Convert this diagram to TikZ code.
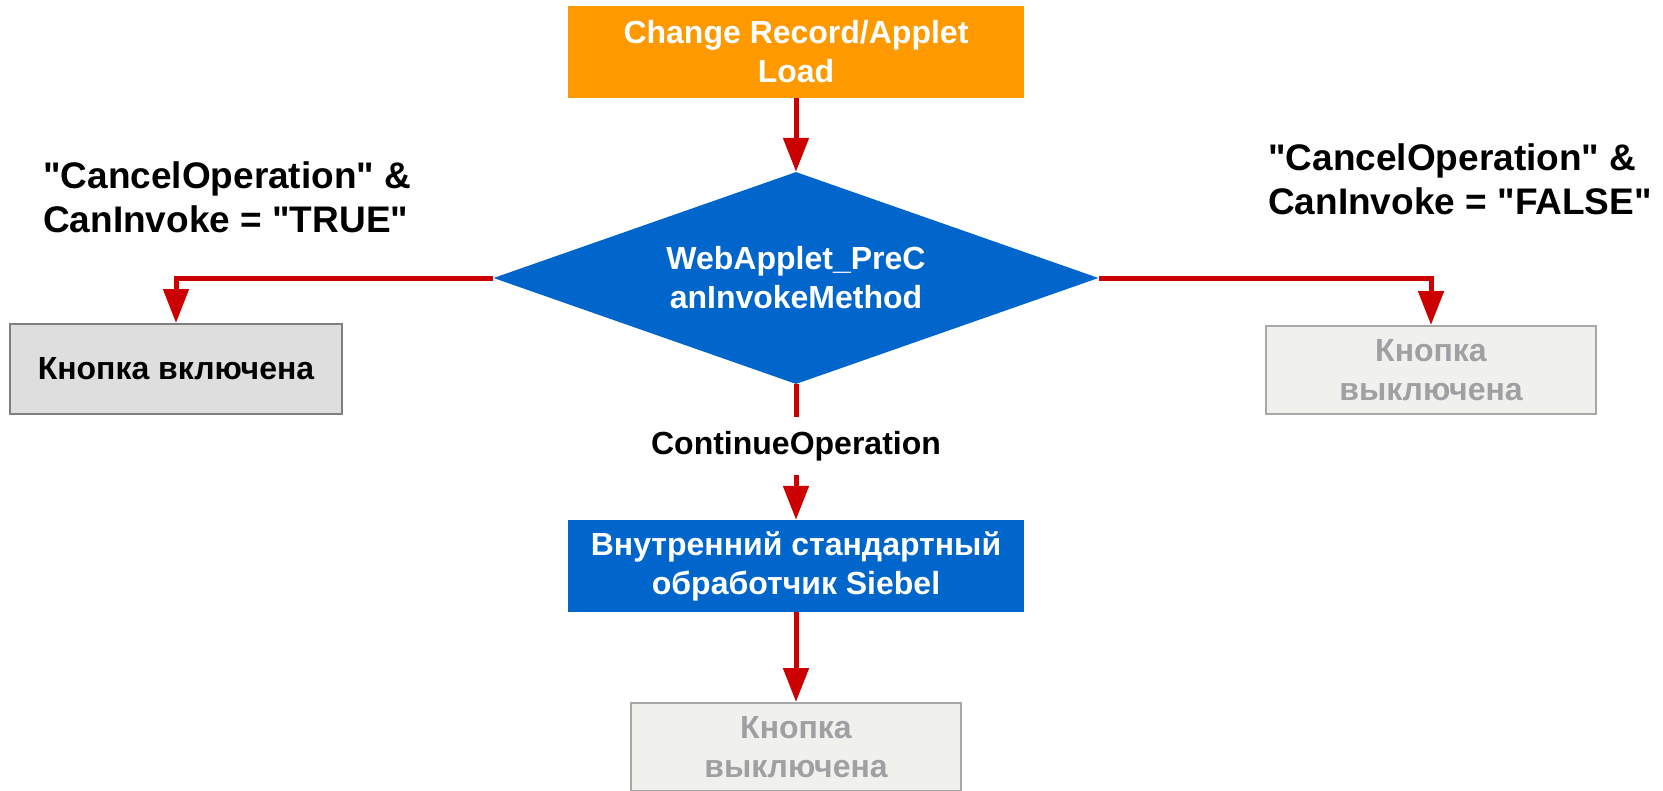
\documentclass[tikz,border=0pt]{standalone}
\usepackage{fontspec}
\setmainfont{Liberation Sans}[Ligatures=TeXOff]
\usetikzlibrary{shapes.geometric,arrows.meta}
\definecolor{orng}{HTML}{FF9900}
\definecolor{blu}{HTML}{0066CC}
\definecolor{rd}{HTML}{CC0000}
\definecolor{onfill}{HTML}{DEDEDE}
\definecolor{onbord}{HTML}{7F7F7F}
\definecolor{offfill}{HTML}{F0F0EC}
\definecolor{offbord}{HTML}{A8A8A8}
\definecolor{offtext}{HTML}{A0A0A4}
\tikzset{
  boxtxt/.style={font=\fontsize{32}{39}\selectfont\bfseries, align=center, inner sep=0pt},
  orangebox/.style={boxtxt, rectangle, fill=orng, text=white, minimum width=456pt, minimum height=92pt},
  bluebox/.style={boxtxt, rectangle, fill=blu, text=white, minimum width=456pt, minimum height=92pt},
  decision/.style={boxtxt, diamond, fill=blu, text=white, aspect=2.85, minimum width=605pt, minimum height=212pt},
  onbox/.style={boxtxt, rectangle, fill=onfill, draw=onbord, line width=2pt, text=black, minimum width=332pt, minimum height=90pt},
  offbox/.style={boxtxt, rectangle, fill=offfill, draw=offbord, line width=2pt, text=offtext, minimum width=330pt, minimum height=88pt},
  condlabel/.style={font=\fontsize{37}{44}\selectfont\bfseries, align=left, inner sep=0pt, anchor=west},
  flowlabel/.style={font=\fontsize{32}{39}\selectfont\bfseries, inner sep=0pt, minimum height=58pt},
  link/.style={draw=rd, line width=5pt},
  arr/.style={link, -{Triangle[width=25pt,length=34pt]}},
}
\begin{document}
\begin{tikzpicture}[x=1pt,y=-1pt]
\useasboundingbox (0,0) rectangle (1663,790);
\node[orangebox] (start) at (796,52) {Change Record/Applet\\Load};
\node[decision] (dec) at (796,278) {WebApplet\_PreC\\anInvokeMethod};
\node[onbox] (on) at (176,369) {Кнопка включена};
\node[offbox] (offr) at (1431,370) {Кнопка\\выключена};
\node[flowlabel] (cont) at (796,446) {ContinueOperation};
\node[bluebox] (std) at (796,566) {Внутренний стандартный\\обработчик Siebel};
\node[offbox] (offb) at (796,747) {Кнопка\\выключена};
\node[condlabel] (ltrue) at (43,197) {"CancelOperation" \&\\CanInvoke = "TRUE"};
\node[condlabel] (lfalse) at (1268,179.5) {"CancelOperation" \&\\CanInvoke = "FALSE"};
\draw[arr] (start.south) -- (dec.north);
\draw[arr] (dec.west) -| (on.north);
\draw[arr] (dec.east) -| (offr.north);
\draw[link] (dec.south) -- (cont.north);
\draw[arr] (cont.south) -- (std.north);
\draw[arr] (std.south) -- (offb.north);
\end{tikzpicture}
\end{document}
